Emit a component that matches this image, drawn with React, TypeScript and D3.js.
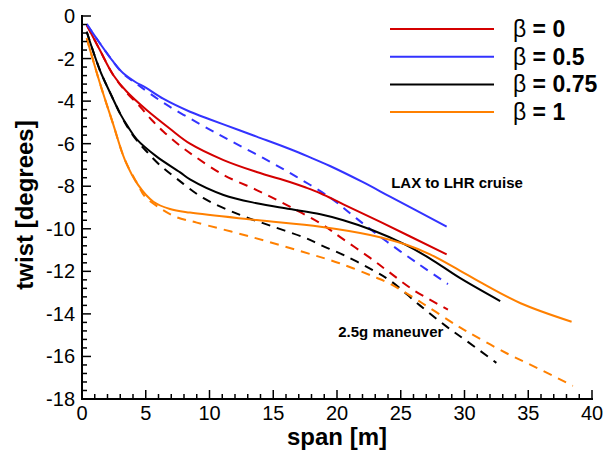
import React from "react";
import * as d3 from "d3";

const xTicks = [0, 5, 10, 15, 20, 25, 30, 35, 40];
const yTicks = [0, -2, -4, -6, -8, -10, -12, -14, -16, -18];

const legendLabels = ["0", "0.5", "0.75", "1"];
const seriesColors = ["#d40000", "#3333ff", "#000000", "#ff8000"];

const beta0Cruise: [number, number][] = [[0.37,-0.42],[1.4,-1.6],[2.45,-2.77],[3.5,-3.55],[5.07,-4.42],[6.9,-5.3],[8.47,-6.0],[11.1,-6.77],[13.7,-7.33],[16.3,-7.8],[17.5,-8.05],[18.7,-8.33],[20.5,-8.85],[23.4,-9.68],[28.6,-11.2]];
const beta0Maneuver: [number, number][] = [[0.37,-0.42],[1.4,-1.6],[2.45,-2.77],[3.5,-3.6],[4.55,-4.26],[5.47,-4.89],[6.4,-5.44],[7.7,-6.1],[8.9,-6.62],[11.1,-7.47],[13.7,-8.18],[16.3,-8.96],[18.9,-9.82],[20.2,-10.37],[22.6,-11.37],[23.9,-11.95],[26,-12.88],[28.7,-13.8]];
const beta05Cruise: [number, number][] = [[0.37,-0.38],[1.4,-1.28],[2.45,-2.15],[3.24,-2.69],[4.16,-3.09],[5,-3.37],[6.4,-3.9],[8.47,-4.5],[10,-4.85],[12.4,-5.38],[13.7,-5.67],[16.3,-6.25],[17.8,-6.62],[19.45,-7.05],[22,-7.8],[24.2,-8.5],[28.6,-9.9]];
const beta05Maneuver: [number, number][] = [[0.37,-0.38],[1.4,-1.28],[2.45,-2.15],[3.24,-2.72],[4.4,-3.24],[6.5,-4.12],[9.25,-5.08],[11.6,-5.85],[14.2,-6.67],[16.8,-7.55],[19.5,-8.55],[21.5,-9.5],[23.9,-10.6],[26.5,-11.7],[28.7,-12.6]];
const beta075Cruise: [number, number][] = [[0.37,-0.74],[1.4,-2.54],[2.2,-3.6],[3.0,-4.6],[3.6,-5.2],[4.3,-5.8],[5.86,-6.61],[7.7,-7.35],[8.47,-7.68],[11.1,-8.41],[13.7,-8.8],[16.3,-9.07],[18.7,-9.32],[20.5,-9.6],[22.8,-10.07],[25.2,-10.7],[27.3,-11.4],[29.6,-12.3],[32.8,-13.4]];
const beta075Maneuver: [number, number][] = [[0.37,-0.74],[1.4,-2.54],[2.2,-3.6],[3.0,-4.6],[3.6,-5.25],[4.3,-5.85],[5.07,-6.37],[6.1,-7.0],[7.4,-7.63],[9.5,-8.55],[12.4,-9.35],[15.0,-9.9],[17.6,-10.45],[18.7,-10.76],[20.5,-11.23],[22.8,-11.94],[24.2,-12.45],[26.5,-13.6],[28.6,-14.6],[30,-15.2],[32.5,-16.3]];
const beta1Cruise: [number, number][] = [[0.37,-1.05],[1.4,-3.15],[2.4,-5.0],[3.37,-6.77],[4.4,-7.94],[5.6,-8.73],[6.9,-9.07],[8.47,-9.24],[13.7,-9.59],[18.7,-9.9],[22.6,-10.29],[25.5,-10.76],[27.3,-11.2],[29.6,-11.95],[31.2,-12.5],[34.4,-13.5],[38.4,-14.37]];
const beta1Maneuver: [number, number][] = [[0.37,-1.05],[1.4,-3.15],[2.4,-5.0],[3.37,-6.77],[4.4,-7.94],[4.94,-8.49],[6.1,-9.02],[7.4,-9.45],[9,-9.71],[13.2,-10.37],[17.3,-11.08],[20.2,-11.62],[23.1,-12.3],[24.2,-12.6],[26.7,-13.5],[29.4,-14.55],[30.2,-14.83],[33.3,-15.85],[35.9,-16.6],[38.5,-17.38]];

const cruiseSeries = [beta0Cruise, beta05Cruise, beta075Cruise, beta1Cruise];
const maneuverSeries = [beta0Maneuver, beta05Maneuver, beta075Maneuver, beta1Maneuver];

const annotations = [
  { text: "LAX to LHR cruise", x: 24.25, y: -8.1 },
  { text: "2.5g maneuver", x: 20.1, y: -15.1 },
];

export default function App() {
  const W = 613, H = 457;
  const x = d3.scaleLinear().domain([0, 40]).range([82, 592]);
  const y = d3.scaleLinear().domain([-18, 0]).range([399, 16]);
  const line = d3.line<[number, number]>().x(d => x(d[0])).y(d => y(d[1])).curve(d3.curveCatmullRom.alpha(0.5));
  const font = "'Liberation Sans', Arial, Helvetica, sans-serif";

  const xMinor = d3.range(0, 40.01, 1);
  const yMinor = d3.range(0, 46).map(i => -i * 0.4);

  return (
    <svg width={W} height={H} style={{ position: "absolute", left: 0, top: 0, background: "#fff" }} fontFamily={font}>
      {maneuverSeries.map((s, i) => (
        <path key={"m" + i} d={line(s) || ""} fill="none" stroke={seriesColors[i]} strokeWidth={2} strokeDasharray="9,7" />
      ))}
      {cruiseSeries.map((s, i) => (
        <path key={"c" + i} d={line(s) || ""} fill="none" stroke={seriesColors[i]} strokeWidth={2} />
      ))}
      <line x1={82} x2={82} y1={y(0) - 1} y2={y(-18) + 1} stroke="#000" strokeWidth={2} />
      <line x1={81} x2={x(40) + 1} y1={399} y2={399} stroke="#000" strokeWidth={2} />
      {xMinor.map(v => (
        <line key={"xm" + v} x1={x(v)} x2={x(v)} y1={399} y2={399 - (v % 5 === 0 ? 9 : 5)} stroke="#000" strokeWidth={1.5} />
      ))}
      {yMinor.map((v, i) => (
        <line key={"ym" + i} x1={82} x2={82 + (i % 5 === 0 ? 9 : 5)} y1={y(v)} y2={y(v)} stroke="#000" strokeWidth={1.5} />
      ))}
      {xTicks.map(v => (
        <text key={"xt" + v} x={x(v)} y={420} fontSize={20} textAnchor="middle">{v}</text>
      ))}
      {yTicks.map(v => (
        <text key={"yt" + v} x={75} y={y(v) + 7} fontSize={20} textAnchor="end">{v}</text>
      ))}
      <text x={337} y={445} fontSize={24} fontWeight="bold" textAnchor="middle">span [m]</text>
      <text transform={`translate(33,205) rotate(-90)`} fontSize={24} fontWeight="bold" textAnchor="middle">twist [degrees]</text>
      {legendLabels.map((lab, i) => (
        <g key={"lg" + i}>
          <line x1={390} x2={494} y1={29 + i * 27.7} y2={29 + i * 27.7} stroke={seriesColors[i]} strokeWidth={2} />
          <text x={513} y={29 + i * 27.7 + 8} fontSize={23}>
            <tspan>β</tspan>
            <tspan fontWeight="bold"> = {lab}</tspan>
          </text>
        </g>
      ))}
      {annotations.map(a => (
        <text key={a.text} x={x(a.x)} y={y(a.y)} fontSize={15} fontWeight="bold">{a.text}</text>
      ))}
    </svg>
  );
}
